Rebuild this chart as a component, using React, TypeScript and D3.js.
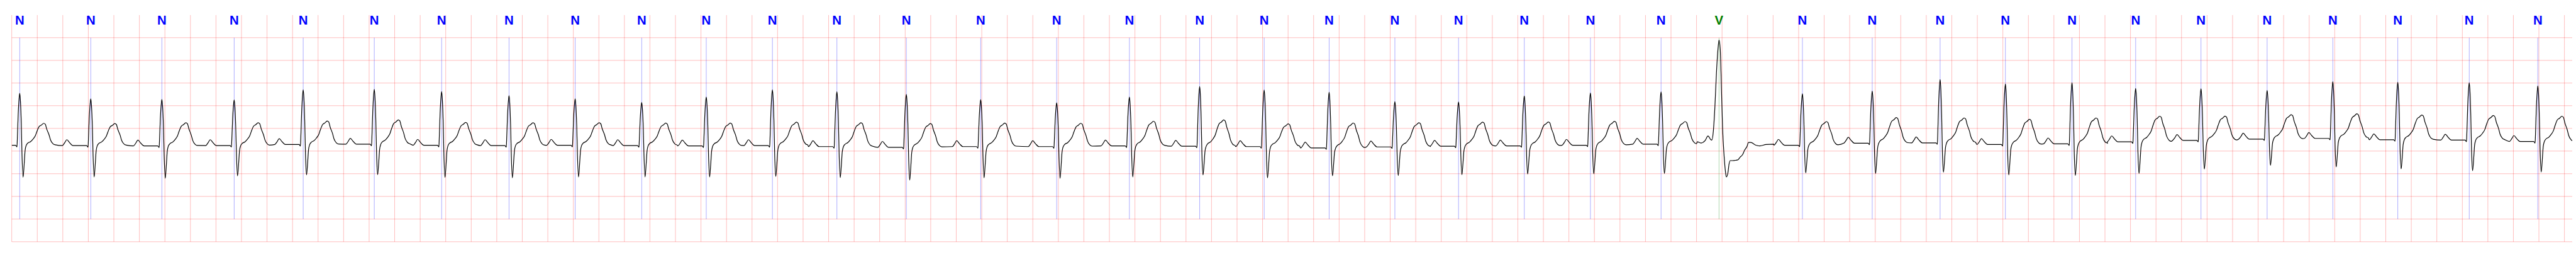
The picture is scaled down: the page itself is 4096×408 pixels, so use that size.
import React from 'react';
import * as d3 from 'd3';

// ---- annotations (time in s, label) ----
const beatLabels = [
  'N','N','N','N','N','N','N','N','N','N',
  'N','N','N','N','N','N','N','N','N','N',
  'N','N','N','N','N','V','N','N','N','N',
  'N','N','N','N','N','N','N','N',
];
const beatTimes = [
  0.0625, 0.6193, 1.1763, 1.7427, 2.2834, 2.8404, 3.3681, 3.8962, 4.4143, 4.9356,
  5.4414, 5.9597, 6.4650, 7.0091, 7.5916, 8.1870, 8.7567, 9.3072, 9.8125, 10.3217,
  10.8366, 11.3354, 11.8506, 12.3687, 12.9222, 13.3762, 14.0295, 14.5766, 15.1084, 15.6201,
  16.1417, 16.6405, 17.1524, 17.6706, 18.1854, 18.6942, 19.2541, 19.7916,
];
// ---- per-beat amplitudes (mV) ----
const rPeaks = [
  0.774, 0.653, 0.640, 0.628, 0.850, 0.860, 0.812, 0.721, 0.653, 0.572,
  0.691, 0.850, 0.809, 0.748, 0.635, 0.565, 0.691, 0.922, 0.847, 0.799,
  0.590, 0.582, 0.714, 0.782, 0.807, 1.947, 0.764, 0.822, 1.076, 0.980,
  1.005, 0.880, 0.875, 0.837, 1.031, 1.018, 1.005, 0.937,
];
const sTroughs = [
  -1.076, -1.072, -1.102, -1.049, -1.026, -1.021, -1.082, -1.091, -1.072, -1.072,
  -1.072, -1.059, -1.084, -1.140, -1.091, -1.102, -1.072, -1.026, -1.091, -1.046,
  -1.039, -1.021, -1.008, -1.001, -0.996, -1.072, -0.983, -0.996, -0.966, -1.026,
  -1.039, -0.996, -0.900, -0.815, -0.850, -0.895, -0.933, -0.963,
];
const tPeaks = [
  0.112, 0.107, 0.125, 0.125, 0.162, 0.187, 0.132, 0.125, 0.125, 0.117,
  0.117, 0.137, 0.125, 0.107, 0.117, 0.112, 0.157, 0.187, 0.099, 0.119,
  0.125, 0.137, 0.142, 0.155, 0.150, 0.000, 0.150, 0.238, 0.230, 0.200,
  0.230, 0.268, 0.270, 0.301, 0.321, 0.295, 0.283, 0.268,
];
const baselines = [
  -0.372, -0.379, -0.387, -0.379, -0.356, -0.349, -0.372, -0.379, -0.372, -0.379,
  -0.387, -0.379, -0.402, -0.417, -0.402, -0.402, -0.387, -0.394, -0.402, -0.432,
  -0.409, -0.394, -0.387, -0.372, -0.349, -0.341, -0.372, -0.326, -0.319, -0.356,
  -0.341, -0.296, -0.266, -0.236, -0.221, -0.251, -0.258, -0.289,
];
const pAmp = 0.13;

// ---- the ventricular beat, traced point by point (s, mV) ----
const vSegTimes = [
  13.2056, 13.2351, 13.2662, 13.2901, 13.3129, 13.3201, 13.3317, 13.3440, 13.3558, 13.3679,
  13.3762, 13.3858, 13.3955, 13.4041, 13.4159, 13.4255, 13.4336, 13.4457, 13.4551, 13.4632,
  13.4819, 13.5061, 13.5238, 13.5410, 13.5598, 13.5775, 13.5947, 13.6075, 13.6255, 13.6617,
  13.6966, 13.7449, 13.8053,
];
const vSegValues = [
  -0.295, -0.323, -0.273, -0.168, -0.251, -0.258, -0.060, 0.482, 1.207, 1.747,
  1.947, 1.747, 0.844, 0.014, -0.602, -0.927, -1.072, -0.982, -0.783, -0.711,
  -0.711, -0.704, -0.693, -0.636, -0.583, -0.476, -0.402, -0.311, -0.311, -0.367,
  -0.385, -0.356, -0.349,
];

// ---- normal-beat morphology read from the first beat (offsets s from R) ----
const pOffsets = [-0.2227, -0.2039, -0.1878, -0.1664, -0.1395];
const pFrac = [0, 0.5, 1, 0.5, 0];
const qrsOffsets = [-0.0322, -0.0215, -0.0188, -0.0121, -0.0048, 0, 0.0059, 0.0121, 0.0180, 0.0263, 0.0349, 0.0419, 0.0503];
const qrsRFrac = [0, 0, 0.11, 0.59, 0.9, 1, 0.84, 0.43, 0, 0, 0, 0, 0];
const qrsSFrac = [0, 0.05, 0, 0, 0, 0, 0, 0, 0.33, 1, 0.59, 0.17, 0.01];
const tOffsets = [0.0622, 0.0859, 0.1041, 0.1221, 0.1342, 0.1521, 0.1701, 0.1878, 0.1999, 0.2120, 0.2299, 0.2415, 0.2603, 0.2780];
const tFrac = [0.09, 0.17, 0.28, 0.43, 0.62, 0.85, 0.92, 1, 0.96, 0.73, 0.47, 0.24, 0.07, 0.02];

const T_END = 20.061;
const gridTimes = d3.range(0, 101).map((i) => i * 0.2);
const gridValues = [2.0, 1.5, 1.0, 0.5, 0.0, -0.5, -1.0, -1.5, -2.0, -2.5];

function buildTrace(): [number, number][] {
  const pts: [number, number][] = [[0, baselines[0]]];
  beatTimes.forEach((t0, i) => {
    if (beatLabels[i] === 'V') {
      vSegTimes.forEach((t, k) => pts.push([t, vSegValues[k]]));
      return;
    }
    const b = baselines[i];
    const R = rPeaks[i];
    const S = sTroughs[i];
    const T = tPeaks[i];
    pOffsets.forEach((o, k) => {
      const t = t0 + o;
      if (t > 0) pts.push([t, b + pFrac[k] * pAmp]);
    });
    qrsOffsets.forEach((o, k) => {
      const t = t0 + o;
      if (t > 0) pts.push([t, b + qrsRFrac[k] * (R - b) - qrsSFrac[k] * (b - S)]);
    });
    tOffsets.forEach((o, k) => pts.push([t0 + o, b + tFrac[k] * (T - b)]));
  });
  return pts;
}

export default function App() {
  const W = 7522;
  const H = 750;
  const left = 34.3;
  const right = 7511;
  const top = 110;
  const bottom = 705.5;
  const gridTop = 44;

  const x = d3.scaleLinear().domain([0, T_END]).range([left, right]);
  const y = d3.scaleLinear().domain([-2.5, 2.0]).range([bottom, top]);
  const line = d3
    .line<[number, number]>()
    .x((d) => x(d[0]))
    .y((d) => y(d[1]))
    .curve(d3.curveMonotoneX);
  const path = line(buildTrace()) || '';

  const labelColor = (l: string) => (l === 'V' ? '#008000' : '#0000ff');

  return (
    <svg
      width={4096}
      height={408}
      viewBox={`0 0 ${W} ${H}`}
      preserveAspectRatio="none"
      style={{ position: 'absolute', left: 0, top: 0, display: 'block', background: '#fff' }}
    >
      <defs>
        <clipPath id="plot">
          <rect x={left} y={0} width={right - left} height={H} />
        </clipPath>
      </defs>
      <rect x={0} y={0} width={W} height={H} fill="#fff" />
      <g stroke="#ff0000" strokeOpacity={0.3} strokeWidth={1.6}>
        {gridTimes.map((t, i) => (
          <line key={'v' + i} x1={x(t)} x2={x(t)} y1={gridTop} y2={bottom} />
        ))}
        {gridValues.map((v, i) => (
          <line key={'h' + i} x1={left} x2={right} y1={y(v)} y2={y(v)} />
        ))}
      </g>
      <g>
        {beatTimes.map((t, i) => (
          <line
            key={'a' + i}
            x1={x(t)}
            x2={x(t)}
            y1={y(2.0)}
            y2={y(-2.0)}
            stroke={labelColor(beatLabels[i])}
            strokeOpacity={0.55}
            strokeWidth={1.1}
          />
        ))}
      </g>
      <path d={path} fill="none" stroke="#000" strokeWidth={2.2} strokeLinejoin="round" clipPath="url(#plot)" />
      <g
        fontFamily="'Liberation Sans Narrow', 'Arial Narrow', 'Liberation Sans', Arial, sans-serif"
        fontWeight="bold"
        fontSize={37.5}
        textAnchor="middle"
      >
        {beatTimes.map((t, i) => (
          <text key={'l' + i} x={x(t)} y={71} fill={labelColor(beatLabels[i])}>
            {beatLabels[i]}
          </text>
        ))}
      </g>
    </svg>
  );
}
